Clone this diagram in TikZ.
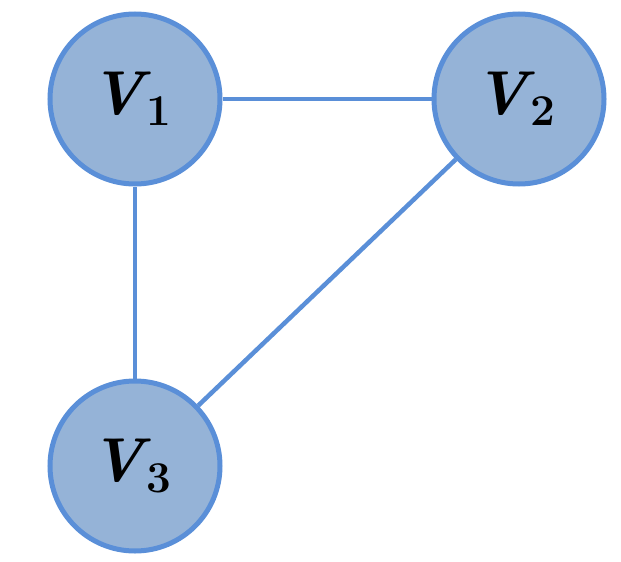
\documentclass[tikz,border=0pt]{standalone}
\definecolor{nodefill}{HTML}{95B3D7}
\definecolor{nodeedge}{HTML}{5A8FD8}
\newcommand{\vlabel}[1]{{\fontsize{62pt}{64pt}\selectfont\bfseries\itshape V}\kern3pt\raisebox{-11pt}{\fontsize{44pt}{46pt}\selectfont\bfseries #1}}
\tikzset{
  vtx/.style={circle,draw=nodeedge,fill=nodefill,line width=5pt,minimum size=170pt,inner sep=0pt},
  lnk/.style={draw=nodeedge,line width=4.5pt}}
\begin{document}
\begin{tikzpicture}
\useasboundingbox (0pt,0pt) rectangle (621pt,-562pt);
\node[vtx] (v1) at (135pt,-99pt) {\vlabel{1}\kern8pt};
\node[vtx] (v2) at (519pt,-99pt) {\vlabel{2}\kern8pt};
\node[vtx] (v3) at (135pt,-466pt) {\vlabel{3}\kern8pt};
\path[lnk] (v1) -- (v2);
\path[lnk] (v1) -- (v3);
\path[lnk] (v2) -- (v3);
\end{tikzpicture}
\end{document}
